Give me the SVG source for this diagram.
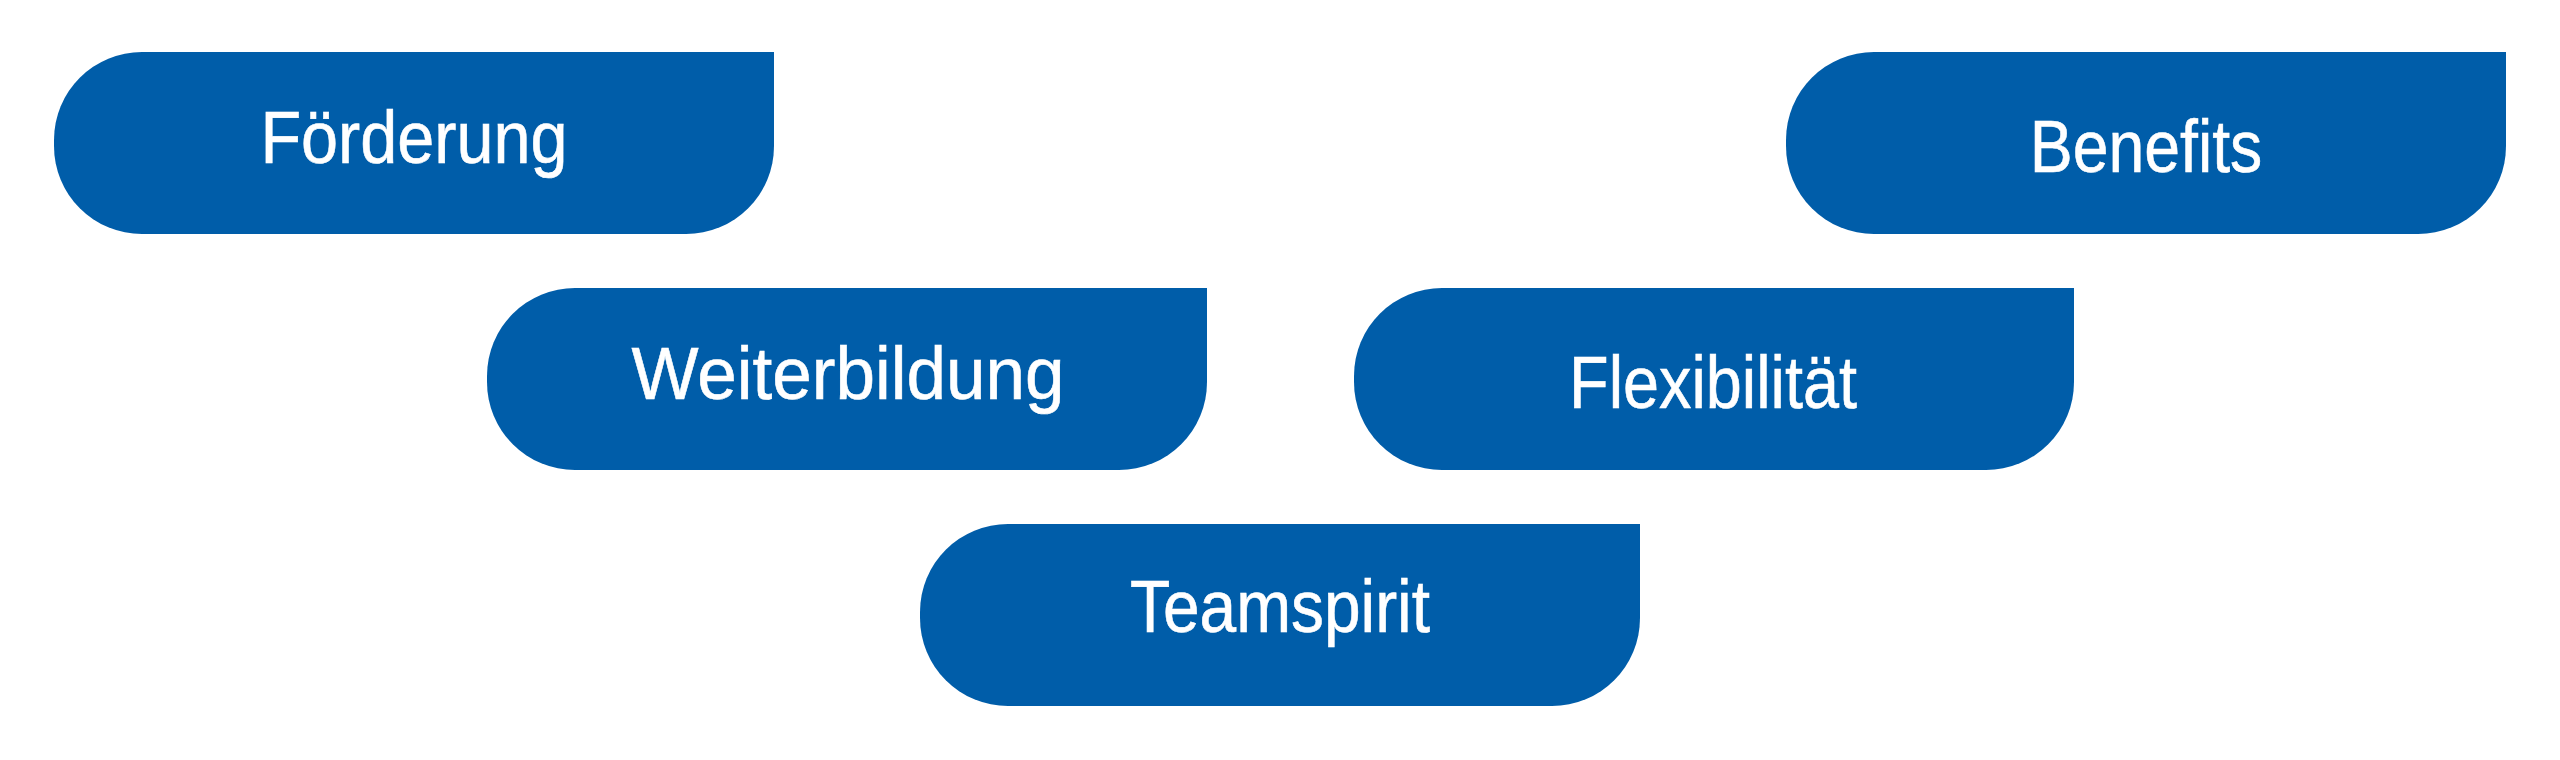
<svg xmlns="http://www.w3.org/2000/svg" xmlns:xlink="http://www.w3.org/1999/xlink" width="2560" height="760" viewBox="0 0 2560 760">
  <style>
    .pill { fill: #005DA9; }
    .label { fill: #FFFFFF; stroke: #FFFFFF; stroke-width: 0.6px; font-family: "Liberation Sans", Arial, sans-serif; text-anchor: middle; }
  </style>
  <defs>
    <path id="pill" d="M88,0 H720 V94 A88,88 0 0 1 632,182 H88 A88,88 0 0 1 0,94 V88 A88,88 0 0 1 88,0 Z"/>
  </defs>
  <rect width="2560" height="760" fill="#FFFFFF"/>
  <g id="connectors"></g>
  <g id="node-foerderung">
    <use xlink:href="#pill" href="#pill" class="pill" x="54" y="52"/>
    <text class="label" font-size="74" transform="translate(414 163) scale(0.90 1)" x="0" y="0">Förderung</text>
  </g>
  <g id="node-benefits">
    <use xlink:href="#pill" href="#pill" class="pill" x="1786" y="52"/>
    <text class="label" font-size="74" transform="translate(2146 172) scale(0.87 1)" x="0" y="0">Benefits</text>
  </g>
  <g id="node-weiterbildung">
    <use xlink:href="#pill" href="#pill" class="pill" x="487" y="288"/>
    <text class="label" font-size="74" transform="translate(848 399) scale(0.96 1)" x="0" y="0">Weiterbildung</text>
  </g>
  <g id="node-flexibilitaet">
    <use xlink:href="#pill" href="#pill" class="pill" x="1354" y="288"/>
    <text class="label" font-size="74" transform="translate(1713 408) scale(0.875 1)" x="0" y="0">Flexibilität</text>
  </g>
  <g id="node-teamspirit">
    <use xlink:href="#pill" href="#pill" class="pill" x="920" y="524"/>
    <text class="label" font-size="74" transform="translate(1280 632) scale(0.89 1)" x="0" y="0">Teamspirit</text>
  </g>
</svg>
